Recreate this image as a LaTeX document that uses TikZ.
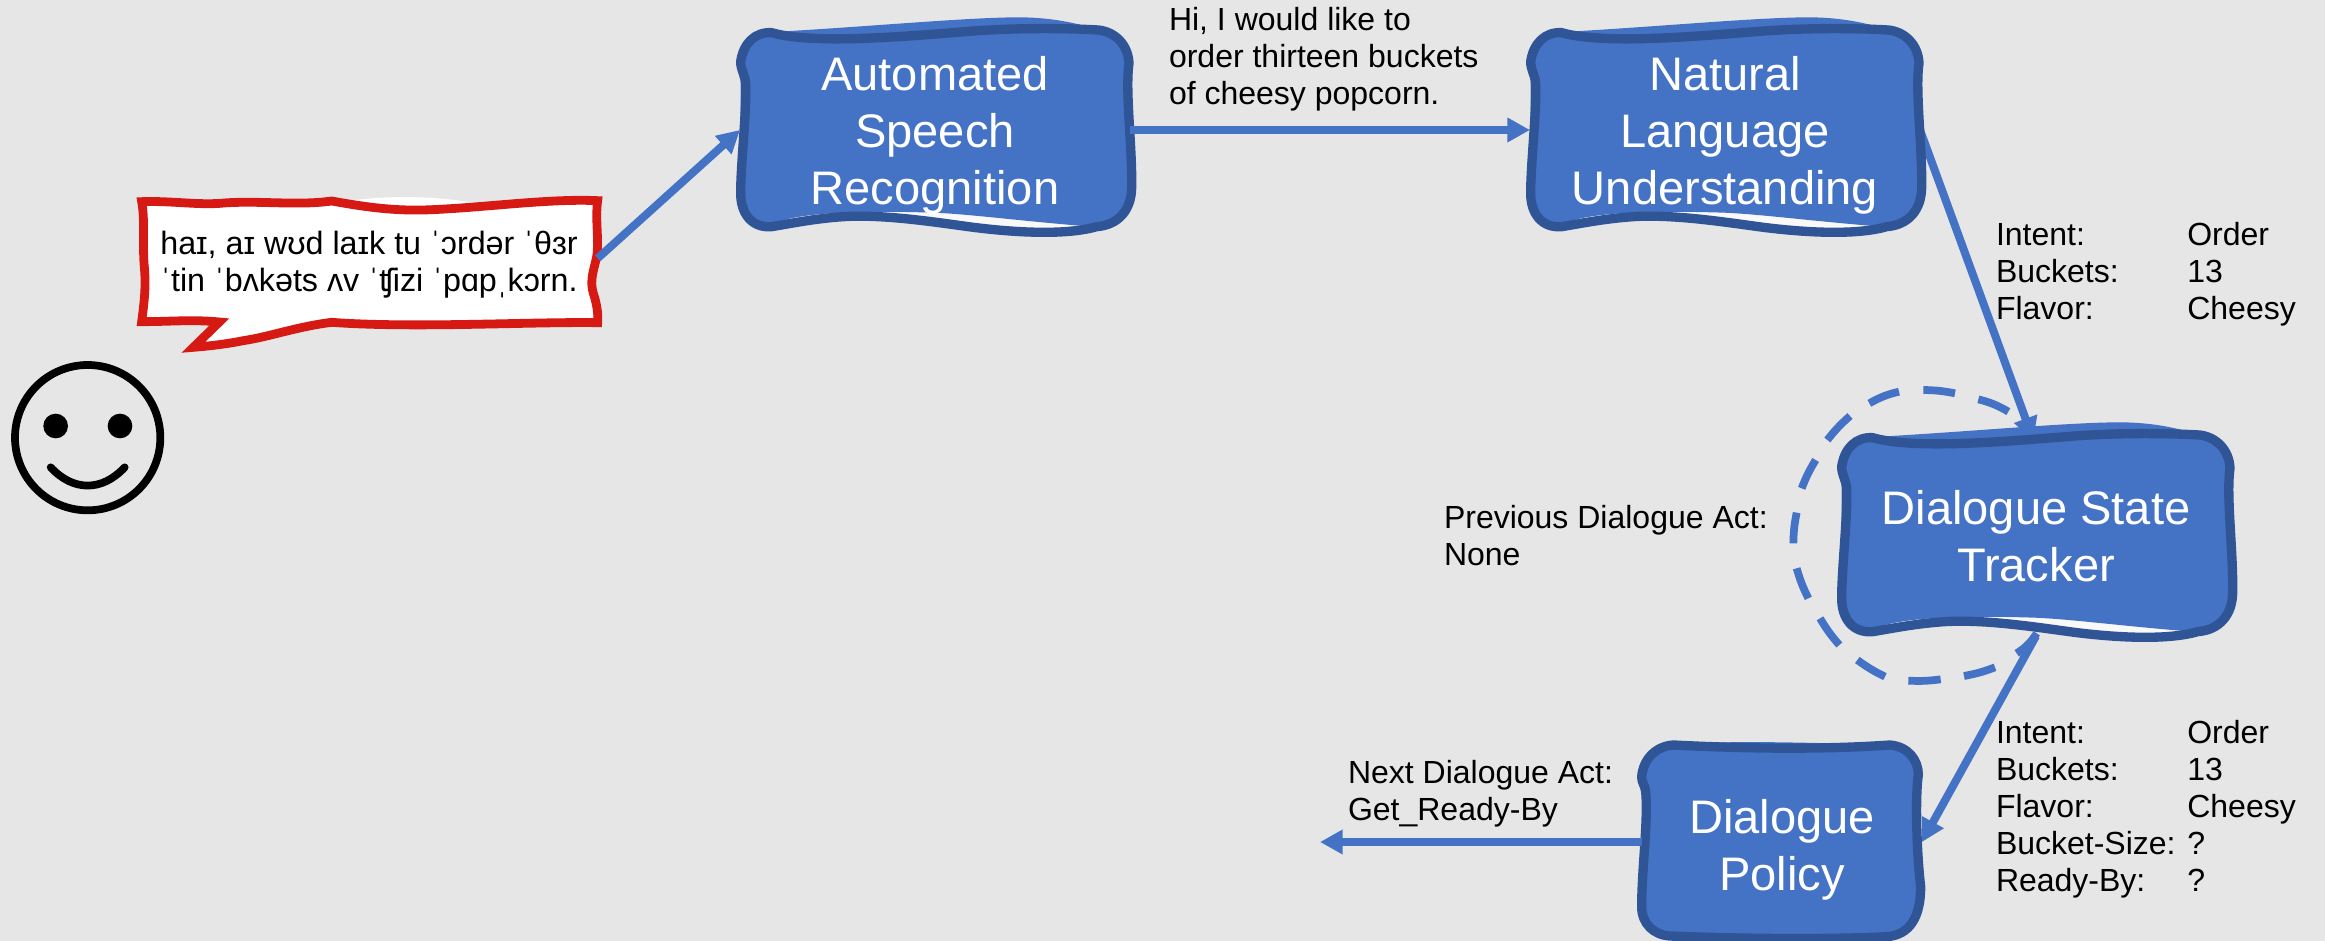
\documentclass[tikz,border=0pt]{standalone}
\usepackage{fontspec}
\setmainfont{Liberation Sans}
\usetikzlibrary{arrows.meta}
\pgfdeclarelayer{page}
\pgfdeclarelayer{conn}
\pgfdeclarelayer{shape}
\pgfsetlayers{page,conn,shape,main}
\definecolor{pagegray}{HTML}{E6E6E6}
\definecolor{boxfill}{HTML}{4472C4}
\definecolor{boxline}{HTML}{2F5597}
\definecolor{bubblered}{HTML}{D61A13}
\newcommand{\wobbleoutline}{(-583,-205) .. controls (-575,-260) and (-540,-295) .. (-490,-292)
  .. controls (-380,-260) and (-150,-275) .. (90,-295)
  .. controls (250,-308) and (400,-305) .. (490,-300)
  .. controls (540,-295) and (580,-255) .. (582,-200)
  .. controls (570,-120) and (592,50) .. (590,170)
  .. controls (590,240) and (550,285) .. (485,290)
  .. controls (400,315) and (250,310) .. (100,290)
  .. controls (-30,272) and (-180,250) .. (-300,262)
  .. controls (-370,268) and (-430,280) .. (-490,290)
  .. controls (-550,295) and (-583,250) .. (-583,190)
  .. controls (-583,100) and (-565,-50) .. (-568,-140)
  .. controls (-570,-165) and (-583,-180) .. (-583,-205) -- cycle}
\tikzset{
  every node/.style={inner sep=0pt, outer sep=0pt},
  wobblebox/.pic={
    \begin{scope}[x=.25pt,y=-.25pt]
      \fill[white!75!pagegray] \wobbleoutline;
      \fill[boxfill] (-470,-295) .. controls (-200,-310) and (100,-338) .. (250,-338)
        .. controls (350,-338) and (430,-320) .. (490,-300)
        .. controls (540,-295) and (580,-255) .. (582,-200)
        .. controls (570,-120) and (592,50) .. (590,170)
        .. controls (590,240) and (540,290) .. (445,288)
        .. controls (250,272) and (100,252) .. (-5,248)
        .. controls (-200,242) and (-350,245) .. (-445,268)
        -- (-490,285) .. controls (-550,295) and (-583,250) .. (-583,190)
        -- (-583,-205) .. controls (-575,-260) and (-540,-295) .. (-490,-292) -- cycle;
      \draw[boxoutline] \wobbleoutline;
    \end{scope}
  },
  boxoutline/.style={draw=boxline, line width=7pt, line join=round},
  boxtext/.style={text=white, align=center, font=\fontsize{35.3}{42.75}\selectfont, minimum width=292.5pt, minimum height=150pt},
  smalltext/.style={anchor=west, align=left, text=black, font=\fontsize{24}{27.75}\selectfont},
  flow/.style={draw=boxfill, line width=6pt, -{Triangle[width=17.5pt,length=17pt]}},
  ring/.style={draw=boxfill, line width=5.8pt},
  facestroke/.style={draw=black, line width=5.8pt}
}
\begin{document}
\begin{tikzpicture}[x=.75pt,y=-.75pt]
\begin{pgfonlayer}{page}
\fill[pagegray] (0,0) rectangle (2325,941);
\end{pgfonlayer}
\useasboundingbox (0,0) rectangle (2325,941);

% text nodes
\node[boxtext] (asr) at (935,135) {Automated\\Speech\\Recognition};
\node[boxtext] (nlu) at (1725,135) {Natural\\Language\\Understanding};
\node[boxtext] (dst) at (2036,536) {Dialogue State\\Tracker};
\node[boxtext, minimum width=210pt] (policy) at (1782,850) {Dialogue\\Policy};
\node[align=center, font=\fontsize{24.2}{27.75}\selectfont, minimum width=343pt, minimum height=97.5pt] (bubble) at (369,265) {haɪ, aɪ wʊd laɪk tu ˈɔrdər ˈθɜr\\ˈtin ˈbʌkəts ʌv ˈʧizi ˈpɑpˌkɔrn.};
\coordinate (out) at (1320,842);

\node[smalltext] (heard) at (1169,59) {Hi, I would like to\\order thirteen buckets\\of cheesy popcorn.};
\node[smalltext] (slots) at (1996,275) {\begin{tabular}{@{}p{143.5pt}@{}l@{}}Intent:&Order\\Buckets:&13\\Flavor:&Cheesy\end{tabular}};
\node[smalltext] (prev) at (1444,536) {Previous Dialogue Act:\\None};
\node[smalltext] (next) at (1348,794) {Next Dialogue Act:\\Get\_Ready-By};
\node[smalltext] (full) at (1996,810) {\begin{tabular}{@{}p{143.5pt}@{}l@{}}Intent:&Order\\Buckets:&13\\Flavor:&Cheesy\\Bucket-Size:&?\\Ready-By:&?\end{tabular}};

% connector hidden under the tracker box
\begin{pgfonlayer}{conn}
  \draw[flow] ([yshift=3.75pt]nlu.east) -- ([xshift=-2pt,yshift=-3pt]dst.north);
\end{pgfonlayer}

% hand-drawn boxes
\begin{pgfonlayer}{shape}
  \pic at ([yshift=3.75pt]asr) {wobblebox};
  \pic at ([yshift=3.75pt]nlu) {wobblebox};
  \pic at ([yshift=.75pt]dst) {wobblebox};
  \begin{scope}[shift={(1600,720)},x=.25pt,y=-.25pt]
    \fill[boxfill] (220,75) .. controls (350,62) and (550,65) .. (870,75)
      .. controls (925,80) and (955,120) .. (955,165)
      .. controls (945,230) and (950,400) .. (960,500)
      .. controls (962,590) and (930,645) .. (860,650)
      -- (210,648) .. controls (160,645) and (125,610) .. (125,560)
      .. controls (125,450) and (145,300) .. (125,170)
      .. controls (130,115) and (170,78) .. (220,75) -- cycle;
    \draw[boxoutline] (125,170) .. controls (130,115) and (170,78) .. (220,75)
      .. controls (420,85) and (650,90) .. (870,75)
      .. controls (925,80) and (955,120) .. (955,165)
      .. controls (945,230) and (950,400) .. (962,500)
      .. controls (962,590) and (930,645) .. (860,650)
      .. controls (650,660) and (400,655) .. (210,648)
      .. controls (160,645) and (125,610) .. (125,560)
      .. controls (125,450) and (145,300) .. (137,215)
      .. controls (135,195) and (125,190) .. (125,170) -- cycle;
  \end{scope}
  % speech bubble
  \begin{scope}[shift={(130,190)},x=.25pt,y=-.25pt]
    \fill[white] (605,40) .. controls (750,15) and (900,15) .. (1040,40) -- (605,60) -- cycle;
    \draw[draw=bubblered, fill=white, line width=6.6pt, miter limit=10]
      (35,35) .. controls (120,32) and (200,45) .. (270,40)
      .. controls (380,30) and (500,48) .. (605,33)
      .. controls (700,50) and (780,62) .. (880,60)
      .. controls (1050,55) and (1250,25) .. (1403,32)
      .. controls (1395,90) and (1408,150) .. (1400,200)
      .. controls (1392,240) and (1378,270) .. (1390,310)
      .. controls (1400,340) and (1405,370) .. (1403,398)
      .. controls (1200,395) and (850,415) .. (605,397)
      .. controls (500,410) and (420,440) .. (340,452)
      .. controls (290,462) and (240,468) .. (190,472)
      -- (268,396)
      .. controls (190,388) and (120,395) .. (35,395)
      .. controls (45,320) and (48,280) .. (42,220)
      .. controls (38,150) and (45,90) .. (35,35) -- cycle;
  \end{scope}
\end{pgfonlayer}

% connectors
\draw[flow] ([yshift=5pt]bubble.east) -- ([yshift=3.75pt]asr.west);
\draw[flow] ([yshift=3.75pt]asr.east) -- ([yshift=3.75pt]nlu.west);
\draw[flow] (dst.south) -- ([yshift=6pt]policy.east);
\draw[flow] ([yshift=6pt]policy.west) -- (out);

% dashed ring round the tracker
\begin{scope}[shift={(1750,370)},x=.25pt,y=-.25pt]
  \draw[ring] (775,125) to[bend right=8] (685,88)
    (615,70) to[bend right=5] (520,60)
    (447,65) to[bend right=8] (358,100)
    (300,138) to[bend right=5] (232,210)
    (197,270) to[bend right=5] (155,355)
    (140,428) to[bend right=5] (130,520)
    (140,595) to[bend right=5] (175,685)
    (210,745) to[bend right=5] (268,825)
    (322,870) to[bend right=5] (405,920)
    (475,932) to[bend right=5] (572,928)
    (642,918) to[bend right=5] (735,892)
    (800,850) to[bend right=12] (860,790);
\end{scope}

% smiley
\begin{scope}[shift={(0,350)},x=.25pt,y=-.25pt]
  \draw[facestroke] (263,263) circle[radius=218];
  \fill[black] (167,228) circle[radius=37] (360,228) circle[radius=37];
  \draw[facestroke, line cap=round] (152,352) .. controls (220,425) and (306,425) .. (374,352);
\end{scope}
\end{tikzpicture}
\end{document}
